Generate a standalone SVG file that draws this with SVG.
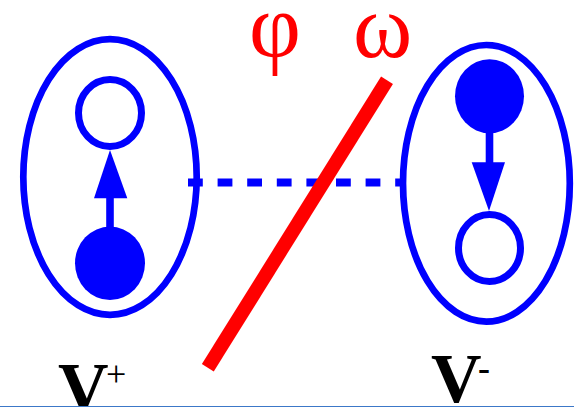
<svg xmlns="http://www.w3.org/2000/svg" width="574" height="408" viewBox="0 0 574 408">
<style>
.cl{fill:none;stroke:#0000ff;stroke-width:6.7}
.open{fill:#ffffff;stroke:#0000ff;stroke-width:7}
.full{fill:#0000ff;stroke:none}
.shaft{stroke:#0000ff;stroke-width:7.6;fill:none}
.head{fill:#0000ff}
.dash{stroke:#0000ff;stroke-width:8;stroke-dasharray:14.8 14.8;fill:none}
.greek{font-family:"Liberation Serif","Times New Roman",serif;font-size:90px;fill:#ff0000}
.lab{font-family:"Liberation Serif","Times New Roman",serif;font-weight:bold;font-size:70px;fill:#000000}
.sup{font-family:"Liberation Serif","Times New Roman",serif;font-size:36px;fill:#000000}
</style>
<rect width="574" height="408" fill="#ffffff"/>
<g id="cluster-left">
<ellipse class="cl" cx="110" cy="177" rx="86.7" ry="137.8"/>
</g>
<g id="cluster-right">
<ellipse class="cl" cx="486.4" cy="183.3" rx="83.4" ry="138.3"/>
</g>
<g id="connectors">
<line class="dash" x1="188" y1="182.5" x2="405" y2="182.5"/>
<line class="shaft" x1="110" y1="228" x2="110" y2="196"/>
<polygon class="head" points="110,150 127.3,198.3 94,198.3"/>
<line class="shaft" x1="489.5" y1="132" x2="489.5" y2="164"/>
<polygon class="head" points="489,211 505,162.3 471.7,162.3"/>
</g>
<g id="node-left-top">
<ellipse class="open" cx="110" cy="113" rx="31.5" ry="33.5"/>
</g>
<g id="node-left-bottom">
<ellipse class="full" cx="110" cy="263.3" rx="35" ry="36.7"/>
</g>
<g id="node-right-top">
<ellipse class="full" cx="489.5" cy="96.2" rx="34.5" ry="37"/>
</g>
<g id="node-right-bottom">
<ellipse class="open" cx="489.5" cy="248" rx="31" ry="33.5"/>
</g>
<g id="cut">
<line x1="387" y1="80.3" x2="207.8" y2="367.8" stroke="#ff0000" stroke-width="14"/>
</g>
<g id="labels">
<text class="greek" x="249" y="57">φ</text>
<text class="greek" x="353" y="57">ω</text>
<text class="lab" x="58" y="411">V</text>
<text class="sup" x="106" y="386">+</text>
<text class="lab" x="431" y="402">V</text>
<text class="sup" x="478" y="380" font-weight="bold">-</text>
</g>
<rect x="0" y="407" width="574" height="1" fill="#ffffff"/>
<line x1="0" y1="406.5" x2="574" y2="406.5" stroke="#3c78c8" stroke-width="1"/>
</svg>
